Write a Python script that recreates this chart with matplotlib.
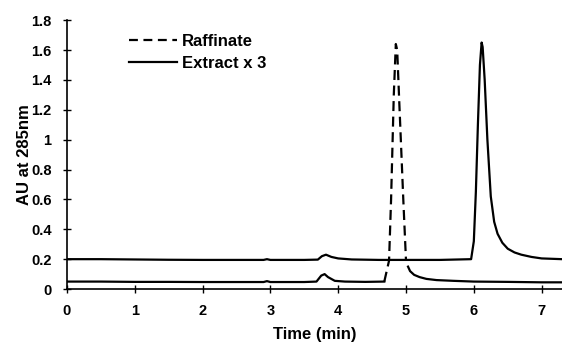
import matplotlib.pyplot as plt

plt.rcParams['font.family'] = ['Liberation Sans', 'DejaVu Sans']

# Raffinate trace (lower)
raff_t = [0, 0.5, 1, 1.5, 2, 2.5, 2.9, 2.95, 3.0, 3.5, 3.68, 3.75, 3.8, 3.85, 3.95, 4.1, 4.4, 4.68,
          4.75, 4.78, 4.82, 4.85, 4.87, 4.90, 4.96, 5.0,
          5.03, 5.06, 5.12, 5.2, 5.3, 5.45, 5.7, 6.0, 6.5, 7.0, 7.3]
raff_v = [0.05, 0.05, 0.048, 0.048, 0.047, 0.047, 0.047, 0.053, 0.047, 0.047, 0.05, 0.09, 0.1, 0.08, 0.055, 0.05, 0.048, 0.05,
          0.19, 0.6, 1.3, 1.64, 1.6, 1.26, 0.6, 0.19,
          0.15, 0.12, 0.095, 0.08, 0.068, 0.06, 0.055, 0.05, 0.048, 0.045, 0.045]

# Extract x 3 trace (upper)
ext_t = [0, 0.5, 1, 1.5, 2, 2.5, 2.9, 2.95, 3.0, 3.5, 3.7, 3.76, 3.82, 3.9, 4.0, 4.2, 4.6, 5.0, 5.5,
         5.96, 6.0, 6.03, 6.06, 6.09, 6.115, 6.13, 6.16, 6.2, 6.25, 6.3, 6.35, 6.42, 6.5, 6.6, 6.7, 6.85, 7.0, 7.3]
ext_v = [0.2, 0.2, 0.198, 0.196, 0.195, 0.195, 0.195, 0.2, 0.195, 0.195, 0.197, 0.22, 0.23, 0.215, 0.205, 0.198, 0.195, 0.195, 0.195,
         0.2, 0.32, 0.65, 1.1, 1.5, 1.65, 1.62, 1.4, 1.0, 0.62, 0.45, 0.37, 0.31, 0.27, 0.245, 0.23, 0.215, 0.205, 0.2]

x_ticks = [0, 1, 2, 3, 4, 5, 6, 7]
y_ticks = [0, 0.2, 0.4, 0.6, 0.8, 1, 1.2, 1.4, 1.6, 1.8]
y_labels = ['0', '0.2', '0.4', '0.6', '0.8', '1', '1.2', '1.4', '1.6', '1.8']

fig = plt.figure(figsize=(5.62, 3.47), dpi=100)
ax = fig.add_axes([0.119, 0.167, 0.881, 0.775])

# peak part of the raffinate is dashed, baseline looks solid in the scan
i0 = raff_t.index(4.68)
i1 = raff_t.index(5.0)
ax.plot(raff_t[:i0 + 1], raff_v[:i0 + 1], color='black', lw=1.6)
ax.plot(raff_t[i0:i1 + 1], raff_v[i0:i1 + 1], color='black', lw=1.6, ls=(0, (4.5, 2.5)))
ax.plot(raff_t[i1 + 1:], raff_v[i1 + 1:], color='black', lw=1.6)
ax.plot(ext_t, ext_v, color='black', lw=1.6)

# legend handles
ax.plot([], [], color='black', lw=1.6, ls=(0, (4, 2.5)), label='Raffinate')
ax.plot([], [], color='black', lw=1.6, label='Extract x 3')
handles, labels = ax.get_legend_handles_labels()
ax.legend(handles, labels, loc='upper left', bbox_to_anchor=(0.095, 1.005), frameon=False,
          handlelength=2.9, handletextpad=0.3, labelspacing=0.45,
          prop={'size': 12, 'weight': 'bold'})

ax.set_xlim(0, 7.3)
ax.set_ylim(0, 1.8)
ax.set_xticks(x_ticks)
ax.set_yticks(y_ticks)
ax.set_yticklabels(y_labels)
ax.spines['top'].set_visible(False)
ax.spines['right'].set_visible(False)
ax.spines['left'].set_linewidth(1.2)
ax.spines['bottom'].set_linewidth(1.2)
ax.tick_params(direction='inout', length=6, width=1, labelsize=10.5, pad=8)
for lab in ax.get_xticklabels() + ax.get_yticklabels():
    lab.set_fontweight('bold')

ax.set_xlabel('Time (min)', fontsize=12, fontweight='bold', labelpad=6)
ax.set_ylabel('AU at 285nm', fontsize=12, fontweight='bold', labelpad=-1)

fig.savefig('out.png', dpi=100)
